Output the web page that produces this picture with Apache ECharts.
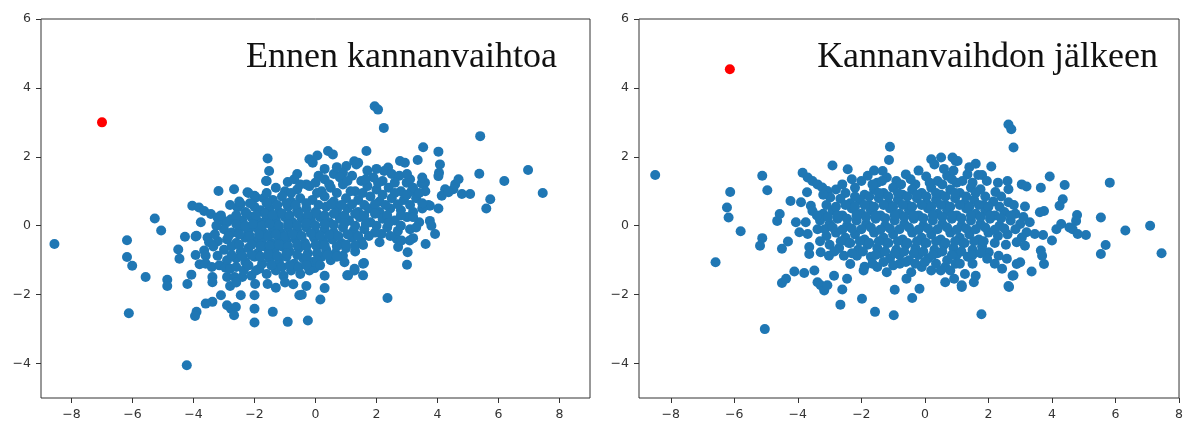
<!DOCTYPE html>
<html>
<head>
<meta charset="utf-8">
<script src="https://cdn.jsdelivr.net/npm/echarts@6/dist/echarts.min.js"></script>
<style>html,body{margin:0;padding:0;background:#fff}#c{width:1186px;height:421px}</style>
</head>
<body>
<div id="c"></div>
<script>
const titles = ["Ennen kannanvaihtoa", "Kannanvaihdon jälkeen"];
const xTicks = [-8, -6, -4, -2, 0, 2, 4, 6, 8];
const yTicks = [-4, -2, 0, 2, 4, 6];
const beforeHighlight = [[-7.0, 3.0]];
const afterHighlight = [[-6.14, 4.54]];

const beforePoints = [
[-8.56,-0.53],[-6.18,-0.42],[-6.18,-0.91],[-6.01,-1.16],[-6.12,-2.54],[-5.57,-1.49],[-5.27,0.21],[-5.06,-0.14],[-4.86,-1.57],[-4.86,-1.75],
[-4.5,-0.69],[-4.46,-0.96],[-4.28,-0.32],[-4.22,-4.05],[-4.07,-1.42],[-4.2,-1.69],[-3.9,-2.5],[-3.95,-2.62],[-3.9,-0.29],[-3.93,-0.85],
[-4.04,0.58],[-3.82,0.53],[-3.65,0.43],[-3.43,0.34],[-3.21,0.24],[-3.0,0.14],[-3.76,0.1],[-2.77,0.19],[-2.56,0.53],[-2.45,0.63],
[-3.93,-0.31],[-3.54,-0.34],[-3.49,-0.48],[-3.65,-0.72],[-3.6,-0.87],[-3.21,-0.87],[-3.8,-1.12],[-3.6,-1.1],[-3.4,-1.2],[-3.15,-1.15],[-2.95,-1.22],
[-3.38,-1.49],[-3.38,-1.64],[-2.9,-1.49],[-2.65,-1.49],[-2.4,-1.49],[-3.1,-2.02],[-3.38,-2.21],[-3.6,-2.26],[-2.9,-2.31],[-2.77,-2.41],[-2.61,-2.36],[-2.67,-2.6],
[-2.45,-2.02],[-2.0,-2.02],[-2.0,-2.41],[-2.0,-2.81],[-3.18,1.01],[-2.67,1.06],[-2.23,0.97],[-2.0,0.87],[-1.95,0.82],
[-2.35,-1.3],[-1.98,-1.69],[-1.84,-1.25],[-1.62,1.3],[-1.57,1.95],[-1.52,1.59],[-1.57,-1.69],[-1.4,-2.5],[-0.91,1.27],[-0.91,-2.79],[-0.73,-1.7],[-0.53,-2.02],
[1.94,3.47],[2.05,3.37],[2.24,2.84],[5.4,2.6],[3.53,2.28],[4.03,2.15],[4.08,1.78],[4.05,1.54],[4.03,1.44],[3.35,1.91],[2.77,1.88],[2.93,1.83],[1.67,2.17],
[1.27,1.87],[1.4,1.83],[1.34,1.78],[1.01,1.73],[0.9,1.54],[0.41,2.17],[0.57,2.07],[-0.2,1.93],[-0.09,1.83],[0.06,2.04],
[6.97,1.62],[6.19,1.3],[7.45,0.95],[5.37,1.51],[5.73,0.77],[5.6,0.5],[5.07,0.92],[4.8,0.92],[4.58,1.2],[4.69,1.35],[4.52,1.06],[4.25,1.06],[4.14,0.87],[4.36,0.97],
[4.03,0.5],[3.75,0.58],[3.92,-0.24],[3.61,-0.53],[3.75,0.14],[3.8,0.0],[3.02,-0.77],[3.0,-1.13],[3.2,-0.36],[3.09,-0.43],[2.71,-0.62],[2.66,-0.38],[2.36,-2.1],
[2.16,-0.24],[2.1,-0.48],[1.56,-0.56],[1.59,-1.08],[1.56,-1.44],[1.28,-1.3],[1.07,-1.44],[1.04,-1.44],[0.9,-0.87],[0.95,-1.06],[0.3,-1.81],[0.16,-2.14],
[-0.45,-2.0],[-0.25,-2.75],[-0.03,-1.23],[2.38,1.69],[2.25,1.59],[3.59,1.25],[3.48,1.23],[2.99,1.25],[3.15,1.01],[1.28,-1.25],[1.56,-1.1],[2.82,-0.43],
[-1.6,1.3],[-0.7,1.35],[-0.3,1.2],[0.1,1.45],[0.3,1.35],[0.6,1.5],[0.8,1.4],[1.2,1.45],[1.5,1.3],[1.9,1.4],[2.2,1.3],[2.5,1.5],[2.75,1.45],[3.1,1.35],[3.5,1.4],
[-2.2,0.95],[-1.3,1.1],[-1.0,1.0],[-0.6,1.05],[-0.2,1.15],[0.2,1.0],[0.5,1.1],[0.9,1.2],[1.3,1.0],[1.7,1.15],[2.0,1.05],[2.4,1.1],[2.8,1.0],[3.2,1.1],[3.6,1.0],
[-2.5,0.7],[-1.7,0.8],[-1.4,0.75],[-1.1,0.85],[-0.8,0.7],[-0.5,0.8],[-0.1,0.75],[0.3,0.85],[0.6,0.7],[1.0,0.8],[1.4,0.75],[1.8,0.85],[2.1,0.7],[2.5,0.8],[2.9,0.75],[3.3,0.8],[3.7,0.6],
[-2.3,0.4],[-2.0,0.55],[-1.8,0.45],[-1.5,0.5],[-1.2,0.4],[-0.9,0.55],[-0.6,0.45],[-0.3,0.5],[0.0,0.4],[0.35,0.55],[0.7,0.45],[1.05,0.5],[1.4,0.4],[1.75,0.5],[2.1,0.4],[2.45,0.5],[2.8,0.45],[3.2,0.4],[3.5,0.5],
[-2.9,0.1],[-2.4,0.15],[-2.1,0.25],[-1.85,0.1],[-1.6,0.2],[-1.3,0.15],[-1.0,0.25],[-0.75,0.1],[-0.45,0.2],[-0.15,0.15],[0.15,0.25],[0.45,0.1],[0.8,0.2],[1.1,0.15],[1.45,0.25],[1.8,0.1],[2.2,0.2],[2.6,0.15],[3.0,0.25],[3.4,0.1],
[-3.0,-0.1],[-2.75,-0.2],[-2.5,-0.1],[-2.2,-0.15],[-1.95,-0.05],[-1.7,-0.2],[-1.4,-0.1],[-1.15,-0.2],[-0.9,-0.05],[-0.6,-0.15],[-0.3,-0.05],[0.0,-0.2],[0.3,-0.1],[0.6,-0.2],[0.9,-0.05],[1.25,-0.15],[1.6,-0.1],[1.95,-0.2],[2.35,-0.05],[2.7,-0.15],[3.1,-0.1],
[-3.2,-0.45],[-2.9,-0.4],[-2.6,-0.5],[-2.3,-0.35],[-2.0,-0.45],[-1.75,-0.4],[-1.45,-0.5],[-1.2,-0.35],[-0.95,-0.45],[-0.65,-0.4],[-0.35,-0.5],[-0.05,-0.35],[0.25,-0.45],[0.55,-0.4],[0.85,-0.5],[1.2,-0.35],[1.5,-0.45],
[-3.0,-0.7],[-2.75,-0.6],[-2.45,-0.75],[-2.2,-0.65],[-1.9,-0.8],[-1.65,-0.6],[-1.35,-0.7],[-1.1,-0.6],[-0.85,-0.75],[-0.55,-0.65],[-0.25,-0.8],[0.05,-0.6],[0.35,-0.7],[0.65,-0.8],[1.0,-0.65],[1.3,-0.75],
[-2.9,-1.0],[-2.6,-0.95],[-2.3,-1.05],[-2.0,-0.9],[-1.75,-1.1],[-1.5,-0.95],[-1.2,-1.05],[-0.95,-0.9],[-0.7,-1.1],[-0.4,-0.95],[-0.1,-1.05],[0.2,-0.9],[0.5,-1.0],
[-2.8,-1.25],[-2.1,-1.45],[-1.6,-1.4],[-1.3,-1.3],[-1.05,-1.45],[-0.8,-1.3],[-0.5,-1.4],[-0.2,-1.3],[0.3,-1.45],
[-1.3,-1.8],[-1.0,-1.65],[-0.3,-1.75],[-2.8,-1.75],[-2.6,-1.65],
[-0.5,1.2],[0.0,1.25],[0.45,1.2],[1.05,1.3],[1.65,1.35],[2.05,1.25],[2.6,1.25],[3.0,1.5],
[-1.6,0.95],[-0.8,0.95],[0.05,0.95],[0.7,0.95],[1.15,1.0],[1.55,0.95],[2.2,0.9],[2.6,0.95],[3.0,0.9],[3.4,0.95],
[-2.8,0.6],[-2.15,0.65],[-1.6,0.65],[-1.25,0.6],[-0.95,0.65],[-0.65,0.6],[-0.3,0.65],[0.1,0.6],[0.5,0.62],[0.85,0.6],[1.2,0.62],[1.6,0.6],[1.95,0.62],[2.3,0.6],[2.7,0.62],[3.1,0.6],[3.5,0.65],
[-3.1,0.3],[-2.6,0.3],[-2.25,0.35],[-1.95,0.3],[-1.65,0.35],[-1.4,0.3],[-1.1,0.35],[-0.85,0.3],[-0.55,0.35],[-0.25,0.3],[0.05,0.35],[0.3,0.3],[0.6,0.35],[0.95,0.3],[1.3,0.35],[1.6,0.3],[1.95,0.35],[2.35,0.3],[2.8,0.3],[3.2,0.25],
[-3.25,0.0],[-2.6,0.05],[-2.3,0.0],[-2.05,0.05],[-1.75,0.0],[-1.5,0.05],[-1.2,0.0],[-0.9,0.05],[-0.6,0.0],[-0.3,0.08],[0.0,0.0],[0.3,0.05],[0.6,0.02],[0.95,0.07],[1.3,0.0],[1.65,0.05],[2.0,0.0],[2.4,0.08],[2.8,0.0],[3.3,-0.05],
[-3.3,-0.25],[-2.85,-0.3],[-2.5,-0.25],[-2.15,-0.3],[-1.85,-0.25],[-1.55,-0.3],[-1.3,-0.25],[-1.0,-0.3],[-0.75,-0.25],[-0.45,-0.3],[-0.15,-0.22],[0.15,-0.3],[0.45,-0.27],[0.75,-0.3],[1.05,-0.25],[1.4,-0.3],[1.75,-0.3],[2.45,-0.3],
[-3.35,-0.6],[-2.5,-0.55],[-2.1,-0.55],[-1.8,-0.6],[-1.5,-0.58],[-1.2,-0.55],[-0.9,-0.6],[-0.6,-0.55],[-0.3,-0.6],[0.0,-0.55],[0.3,-0.57],[0.7,-0.6],[1.0,-0.55],[1.3,-0.58],
[-2.75,-0.85],[-2.4,-0.88],[-2.1,-0.85],[-1.8,-0.9],[-1.55,-0.82],[-1.25,-0.88],[-0.95,-0.8],[-0.6,-0.85],[-0.3,-0.9],[0.05,-0.8],[0.4,-0.85],[0.7,-0.9],
[-2.6,-1.2],[-2.2,-1.15],[-1.95,-1.3],[-1.45,-1.15],[-1.1,-1.2],[-0.85,-1.15],[-0.55,-1.2],[-0.3,-1.15],[0.05,-1.0],[0.15,-1.15],
[0.7,1.7],[1.7,1.6],[0.3,1.65],[-0.6,1.5],[2.0,1.65]
];

const afterPoints = [
[-8.49,1.47],[-6.59,-1.06],[-6.13,0.98],[-6.23,0.53],[-6.18,0.24],[-5.8,-0.16],[-5.12,1.45],[-4.96,1.03],[-5.12,-0.36],[-5.19,-0.58],[-5.04,-3.0],
[-4.57,0.34],[-4.65,0.14],[-4.31,-0.46],[-4.5,-0.67],[-4.5,-1.66],[-4.37,-1.54],[-4.11,-1.33],[-4.23,0.72],[-4.06,0.1],[-3.95,-0.19],
[-3.9,0.68],[-3.71,0.97],[-3.59,0.58],[-3.54,0.43],[-3.75,0.1],[-3.69,-0.24],[-3.38,-0.1],[-3.64,-0.62],[-3.64,-0.82],[-3.28,-0.77],[-3.02,-0.87],
[-3.8,-1.37],[-3.48,-1.3],[-3.38,-1.64],[-3.28,-1.73],[-3.17,-1.88],[-3.07,-1.73],[-2.86,-1.45],[-2.45,-1.54],[-2.6,-1.85],[-2.66,-2.29],[-1.98,-2.12],
[-2.55,-0.87],[-2.14,-0.87],[-2.35,-1.11],[-1.9,-1.19],[-1.93,-1.3],[-1.57,-2.5],[-0.98,-2.6],[-0.4,-2.1],[-0.17,-1.83],[-0.95,-1.86],[-0.58,-1.54],[-0.43,-1.35],[-0.79,-1.1],
[-2.91,1.75],[-2.43,1.64],[-3.85,1.54],[-3.69,1.4],[-3.54,1.3],[-3.38,1.2],[-3.23,1.11],[-3.07,1.01],
[-1.1,2.29],[-1.13,1.91],[-1.33,1.59],[-0.6,1.49],[0.04,1.43],[0.2,1.93],[0.3,1.78],[0.51,1.98],[0.87,1.98],[0.97,1.88],[1.03,1.88],
[2.63,2.94],[2.72,2.8],[2.79,2.27],[2.09,1.72],[1.8,1.47],[1.68,1.47],[1.34,1.49],[1.18,1.3],[3.93,1.43],[4.4,1.18],[5.82,1.25],
[3.05,1.2],[3.2,1.14],[3.65,1.1],[2.63,1.06],[2.22,0.98],[1.75,1.06],[4.34,0.77],[4.24,0.58],[3.75,0.43],[3.62,0.39],[3.15,0.56],[2.63,0.68],
[5.54,0.24],[4.79,0.31],[4.76,0.14],[4.55,-0.05],[4.65,-0.1],[4.14,-0.1],[4.29,0.05],[4.81,-0.24],[5.07,-0.27],[4.0,-0.43],[3.72,-0.27],[3.46,-0.24],[3.2,-0.19],[3.05,-0.34],
[2.89,-0.48],[3.15,-0.58],[3.65,-0.72],[3.69,-0.87],[3.75,-1.11],[3.36,-1.33],[2.79,-1.44],[2.65,-1.78],[3.0,-1.06],[2.89,-1.11],[2.58,-0.96],[2.43,-1.25],
[2.01,-0.77],[1.96,-0.96],[2.32,-0.87],[1.78,-2.57],[1.26,-1.4],[1.16,-1.78],[1.35,-0.9],[6.31,-0.14],[7.09,0.0],[7.45,-0.8],[5.54,-0.82],[5.69,-0.56],
[0.64,-1.64],[0.92,-1.54],[1.16,-1.73],[1.54,-1.64],[1.6,-1.45],[2.76,-1.45],[2.63,-1.75],[0.64,-1.2],[0.8,-1.3],[0.97,-1.1],
[-2.0,1.3],[-1.8,1.45],[-1.5,1.25],[-1.2,1.4],[-0.9,1.3],[-0.3,1.2],[0.4,1.3],[0.7,1.45],[1.0,1.25],[2.3,1.25],[2.6,1.3],
[-2.8,1.05],[-2.5,0.95],[-2.2,1.1],[-1.9,0.9],[-1.6,1.05],[-1.3,0.95],[-1.0,1.1],[-0.7,0.9],[-0.4,1.05],[-0.1,0.95],[0.2,1.1],[0.5,0.9],[0.8,1.05],[1.1,0.95],[1.45,1.1],
[-2.98,0.82],[-2.66,0.78],[-2.35,0.65],[-2.05,0.75],[-1.75,0.6],[-1.45,0.8],[-1.15,0.65],[-0.85,0.75],[-0.55,0.6],[-0.25,0.8],[0.05,0.65],[0.35,0.75],[0.65,0.6],[0.95,0.8],[1.25,0.65],[1.55,0.75],[1.85,0.6],[2.15,0.7],
[-3.2,0.35],[-2.9,0.45],[-2.6,0.3],[-2.3,0.5],[-2.0,0.35],[-1.7,0.45],[-1.4,0.3],[-1.1,0.5],[-0.8,0.35],[-0.5,0.45],[-0.2,0.3],[0.1,0.5],[0.4,0.35],[0.7,0.45],[1.0,0.3],[1.3,0.5],[1.6,0.35],[1.9,0.45],[2.2,0.3],[2.5,0.4],[2.85,0.35],
[-3.3,0.15],[-3.0,0.05],[-2.75,0.2],[-2.45,0.0],[-2.15,0.15],[-1.85,0.05],[-1.55,0.2],[-1.25,0.0],[-0.95,0.15],[-0.65,0.05],[-0.35,0.2],[-0.05,0.0],[0.25,0.15],[0.55,0.05],[0.85,0.2],[1.15,0.0],[1.45,0.15],[1.75,0.05],[2.05,0.2],[2.35,0.0],[2.7,0.15],[3.0,0.05],[3.3,0.1],
[-3.1,-0.3],[-2.8,-0.2],[-2.5,-0.35],[-2.2,-0.25],[-1.9,-0.4],[-1.6,-0.2],[-1.3,-0.35],[-1.0,-0.25],[-0.7,-0.4],[-0.4,-0.2],[-0.1,-0.35],[0.2,-0.25],[0.5,-0.4],[0.8,-0.2],[1.1,-0.35],[1.4,-0.25],[1.7,-0.4],[2.0,-0.2],[2.3,-0.3],[2.6,-0.25],
[-3.0,-0.55],[-2.7,-0.65],[-2.4,-0.5],[-2.1,-0.7],[-1.8,-0.55],[-1.5,-0.65],[-1.2,-0.5],[-0.9,-0.7],[-0.6,-0.55],[-0.3,-0.65],[0.0,-0.5],[0.3,-0.7],[0.6,-0.55],[0.9,-0.65],[1.2,-0.5],[1.5,-0.7],[1.8,-0.6],
[-1.7,-0.9],[-1.4,-0.8],[-1.1,-0.95],[-0.8,-0.85],[-0.5,-1.0],[-0.2,-0.85],[0.1,-0.95],[0.4,-0.8],[0.7,-1.0],[1.0,-0.85],
[-1.5,-1.2],[-1.2,-1.35],[-0.1,-1.2],[0.2,-1.3],
[-2.6,1.2],[-2.3,1.35],[-1.65,1.2],[-1.35,1.3],[-0.75,1.2],[-0.45,1.35],[0.15,1.25],[0.55,1.2],[0.85,1.35],[1.5,1.25],[1.95,1.3],
[-3.2,0.9],[-2.2,0.85],[-1.75,0.85],[-1.45,0.95],[-1.15,0.85],[-0.85,0.95],[-0.55,0.85],[-0.25,0.9],[0.05,0.85],[0.35,0.95],[0.65,0.85],[0.95,0.95],[1.3,0.85],[1.6,0.95],[1.9,0.85],[2.4,0.85],
[-3.1,0.6],[-2.8,0.55],[-2.5,0.6],[-2.2,0.55],[-1.9,0.6],[-1.6,0.55],[-1.3,0.6],[-1.0,0.55],[-0.7,0.6],[-0.4,0.55],[-0.1,0.6],[0.2,0.55],[0.5,0.6],[0.8,0.55],[1.1,0.6],[1.4,0.55],[1.7,0.6],[2.0,0.55],[2.35,0.55],[2.8,0.6],
[-3.4,0.3],[-3.05,0.25],[-2.75,0.3],[-2.45,0.2],[-2.15,0.3],[-1.85,0.25],[-1.55,0.3],[-1.25,0.22],[-0.95,0.3],[-0.65,0.25],[-0.35,0.3],[-0.05,0.22],[0.25,0.3],[0.55,0.25],[0.85,0.3],[1.15,0.22],[1.45,0.3],[1.75,0.25],[2.05,0.3],[2.4,0.22],[2.7,0.3],[3.1,0.25],
[-3.15,-0.1],[-2.9,-0.05],[-2.6,-0.12],[-2.3,-0.08],[-2.0,-0.1],[-1.7,-0.05],[-1.4,-0.12],[-1.1,-0.08],[-0.8,-0.1],[-0.5,-0.05],[-0.2,-0.12],[0.1,-0.08],[0.4,-0.1],[0.7,-0.05],[1.0,-0.12],[1.3,-0.08],[1.6,-0.1],[1.9,-0.05],[2.2,-0.12],[2.5,-0.08],[2.85,-0.1],
[-3.3,-0.45],[-2.65,-0.45],[-2.35,-0.5],[-2.05,-0.45],[-1.75,-0.5],[-1.45,-0.45],[-1.15,-0.5],[-0.85,-0.45],[-0.55,-0.5],[-0.25,-0.45],[0.05,-0.5],[0.35,-0.45],[0.65,-0.5],[0.95,-0.45],[1.25,-0.5],[1.55,-0.45],[1.85,-0.45],[2.2,-0.5],[2.55,-0.55],
[-2.85,-0.75],[-2.3,-0.8],[-1.95,-0.75],[-1.55,-0.85],[-1.25,-0.75],[-0.95,-0.8],[-0.65,-0.75],[-0.35,-0.8],[-0.05,-0.75],[0.25,-0.85],[0.55,-0.75],[0.85,-0.85],[1.15,-0.75],[1.5,-0.85],[1.75,-0.8],
[-1.65,-1.1],[-1.3,-1.05],[-1.0,-1.15],[-0.6,-1.05],[-0.3,-1.1],[0.0,-1.05],[0.35,-1.1],[0.5,-1.3],[1.1,-1.1],[1.5,-1.1],[2.2,-1.1],
[-0.2,1.6],[0.6,1.65],[1.4,1.7],[-1.6,1.6],[0.9,1.6],[1.6,1.8]
];

const fmt = v => String(v).replace('-', '\u2212');
const tickStyle = {show: true, inside: false, length: 5, lineStyle: {color: '#333', width: 1}};
const labelStyle = {color: '#333', fontFamily: 'DejaVu Sans', fontSize: 12.5, margin: 10, formatter: fmt};
function xAxis(idx, min, max) {
  return {
    type: 'value', gridIndex: idx, min: min, max: max,
    axisLine: {show: false, onZero: false},
    splitLine: {show: false},
    axisTick: Object.assign({}, tickStyle, {customValues: xTicks}),
    axisLabel: Object.assign({}, labelStyle, {customValues: xTicks})
  };
}
function yAxis(idx) {
  return {
    type: 'value', gridIndex: idx, min: -5, max: 6,
    axisLine: {show: false, onZero: false},
    splitLine: {show: false},
    axisTick: Object.assign({}, tickStyle, {customValues: yTicks}),
    axisLabel: Object.assign({}, labelStyle, {customValues: yTicks})
  };
}
const chart = echarts.init(document.getElementById('c'), null, {renderer: 'canvas'});
const dot = {symbol: 'circle', symbolSize: 10, animation: false, silent: true};
chart.setOption({
  backgroundColor: '#fff',
  animation: false,
  grid: [
    {left: 41, top: 19, width: 549, height: 381, show: true, borderColor: '#333', borderWidth: 1, backgroundColor: 'transparent'},
    {left: 639, top: 19, width: 546, height: 381, show: true, borderColor: '#333', borderWidth: 1, backgroundColor: 'transparent'}
  ],
  xAxis: [xAxis(0, -9, 9), xAxis(1, -9, 8)],
  yAxis: [yAxis(0), yAxis(1)],
  series: [
    Object.assign({type: 'scatter', xAxisIndex: 0, yAxisIndex: 0, data: beforePoints, itemStyle: {color: '#1f77b4', opacity: 1}}, dot),
    Object.assign({type: 'scatter', xAxisIndex: 0, yAxisIndex: 0, data: beforeHighlight, itemStyle: {color: '#ff0000', opacity: 1}}, dot),
    Object.assign({type: 'scatter', xAxisIndex: 1, yAxisIndex: 1, data: afterPoints, itemStyle: {color: '#1f77b4', opacity: 1}}, dot),
    Object.assign({type: 'scatter', xAxisIndex: 1, yAxisIndex: 1, data: afterHighlight, itemStyle: {color: '#ff0000', opacity: 1}}, dot)
  ],
  graphic: [
    {type: 'text', right: 629, top: 40, style: {text: titles[0], font: '36px "Liberation Serif"', fill: '#111'}},
    {type: 'text', right: 28, top: 40, style: {text: titles[1], font: '36px "Liberation Serif"', fill: '#111'}}
  ]
});
</script>
</body>
</html>
